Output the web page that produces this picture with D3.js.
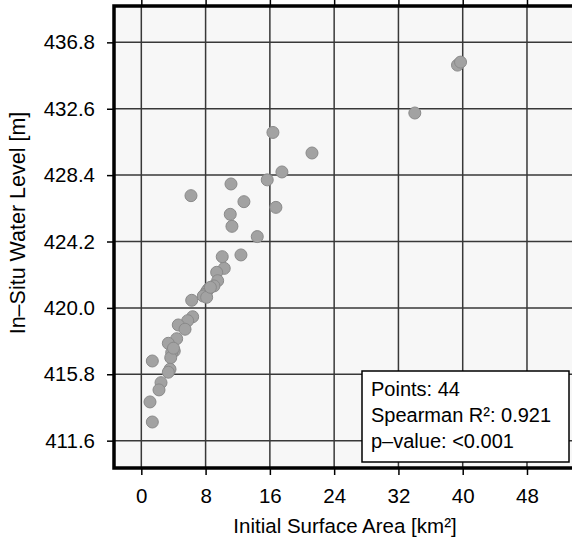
<!DOCTYPE html>
<html>
<head>
<meta charset="utf-8">
<script src="https://cdn.jsdelivr.net/npm/d3@7"></script>
<style>
  html, body { margin: 0; padding: 0; background: #ffffff; }
  svg { display: block; }
  text { font-family: "Liberation Sans", Arial, Helvetica, sans-serif; fill: #000; }
</style>
</head>
<body>
<svg id="chart" width="572" height="539"></svg>
<script>
// Initial surface area (km²) per reservoir
const areaKm2 = [
  39.35, 39.73, 34.04, 16.38, 21.24, 17.5, 15.67, 11.16, 6.18, 12.77,
  16.75, 11.07, 11.28, 14.43, 10.07, 12.4, 10.32, 9.38, 9.5, 9.04,
  8.33, 8.13, 7.92, 7.71, 8.13, 6.27, 6.39, 5.77, 4.6, 5.44,
  4.4, 3.36, 4.1, 3.78, 3.66, 1.37, 3.57, 3.36, 2.45, 2.2,
  1.08, 1.37, 8.6, 4.0
];
// Matching in-situ water level (m)
const levelM = [
  435.36, 435.55, 432.33, 431.1, 429.8, 428.6, 428.1, 427.84, 427.1, 426.72,
  426.36, 425.92, 425.16, 424.51, 423.24, 423.35, 422.5, 422.25, 421.72, 421.39,
  421.18, 421.03, 420.86, 420.75, 420.67, 420.48, 419.44, 419.19, 418.92, 418.65,
  418.05, 417.76, 417.27, 417.17, 416.85, 416.64, 416.12, 415.93, 415.27, 414.81,
  414.05, 412.78, 421.3, 417.45
];

const xTicks = [0, 8, 16, 24, 32, 40, 48];
const yTicks = [411.6, 415.8, 420.0, 424.2, 428.4, 432.6, 436.8];

const statLines = ["Points: 44", "Spearman R²: 0.921", "p–value: <0.001"];

const svg = d3.select("#chart");
const pLeft = 114, pRight = 576, pTop = 6, pBottom = 468;

const x = d3.scaleLinear().domain([-3.4, 54.1]).range([pLeft, pRight]);
const y = d3.scaleLinear().domain([409.87, 439.1]).range([pBottom, pTop]);

// plot background
svg.append("rect")
  .attr("x", pLeft).attr("y", pTop)
  .attr("width", pRight - pLeft).attr("height", pBottom - pTop)
  .attr("fill", "#f7f7f7");

// grid
const grid = svg.append("g").attr("stroke", "#383838").attr("stroke-width", 1.5);
grid.selectAll("line.gx").data(xTicks).join("line")
  .attr("class", "gx")
  .attr("x1", d => x(d)).attr("x2", d => x(d))
  .attr("y1", pTop).attr("y2", pBottom);
grid.selectAll("line.gy").data(yTicks).join("line")
  .attr("class", "gy")
  .attr("x1", pLeft).attr("x2", pRight)
  .attr("y1", d => y(d)).attr("y2", d => y(d));

// points
const pts = areaKm2.map((a, i) => ({ a, l: levelM[i] }));
svg.append("g").selectAll("circle").data(pts).join("circle")
  .attr("cx", d => x(d.a)).attr("cy", d => y(d.l)).attr("r", 6)
  .attr("fill", "#a2a2a2").attr("stroke", "#8a8a8a").attr("stroke-width", 1);

// axes
const fmtY = d3.format(".1f");
const xAxis = svg.append("g").attr("transform", `translate(0,${pBottom})`)
  .call(d3.axisBottom(x).tickValues(xTicks).tickSize(7).tickPadding(13).tickSizeOuter(0));
const xTopAxis = svg.append("g").attr("transform", `translate(0,${pTop})`)
  .call(d3.axisTop(x).tickValues(xTicks).tickSize(7).tickFormat("").tickSizeOuter(0));
const yAxis = svg.append("g").attr("transform", `translate(${pLeft},0)`)
  .call(d3.axisLeft(y).tickValues(yTicks).tickFormat(fmtY).tickSize(7).tickPadding(12).tickSizeOuter(0));

[xAxis, xTopAxis, yAxis].forEach(g => {
  g.select(".domain").remove();
  g.selectAll(".tick line").attr("stroke", "#000").attr("stroke-width", 1.5);
  g.selectAll(".tick text").style("font-size", "20.5px")
    .style("font-family", "'Liberation Sans', Arial, sans-serif").attr("fill", "#111");
});

// frame
svg.append("path")
  .attr("d", `M${pRight},${pTop}H${pLeft}V${pBottom}H${pRight}`)
  .attr("fill", "none").attr("stroke", "#000").attr("stroke-width", 3.5);

// axis titles
svg.append("text")
  .attr("x", (pLeft + pRight) / 2).attr("y", 533)
  .attr("text-anchor", "middle").style("font-size", "20.5px").attr("fill", "#111")
  .text("Initial Surface Area [km²]");
svg.append("text")
  .attr("transform", "translate(25,223) rotate(-90)")
  .attr("text-anchor", "middle").style("font-size", "21.5px").attr("fill", "#111")
  .text("In–Situ Water Level [m]");

// statistics box
const box = svg.append("g");
box.append("rect")
  .attr("x", 362).attr("y", 371).attr("width", 207).attr("height", 91)
  .attr("fill", "#ffffff").attr("stroke", "#000").attr("stroke-width", 1.5);
box.selectAll("text").data(statLines).join("text")
  .attr("x", 371).attr("y", (d, i) => 396 + i * 26)
  .style("font-size", "20px").attr("fill", "#111")
  .text(d => d);
</script>
</body>
</html>
